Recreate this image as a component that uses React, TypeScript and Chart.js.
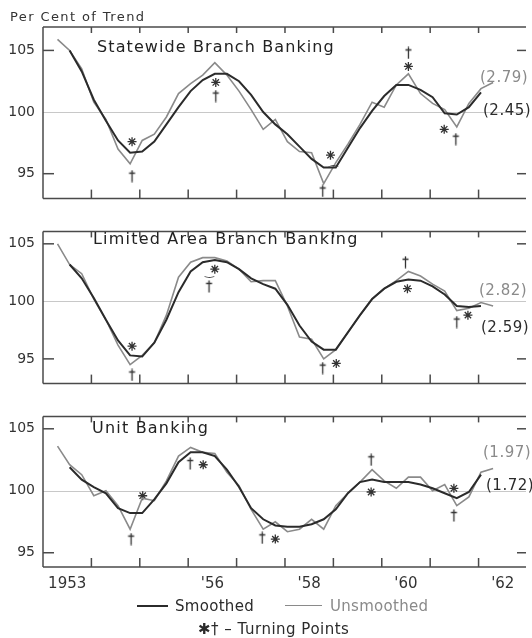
import React, { useEffect, useRef } from "react";
import { Chart, registerables } from "chart.js";

Chart.register(...registerables);

// ---- quarterly observations: first point is 1953 Q2, one value per quarter ----
const FIRST_QUARTER_X = 1953.3;
const QUARTER = 0.25;

const statewideUnsmoothed = [
  105.9, 105.0, 103.5, 100.8, 99.4, 97.0, 95.8, 97.7, 98.2, 99.6, 101.5, 102.3,
  103.0, 104.0, 103.0, 101.7, 100.2, 98.6, 99.4, 97.6, 96.8, 96.7, 94.2, 95.9,
  97.4, 99.0, 100.8, 100.4, 102.2, 103.1, 101.5, 100.7, 100.2, 98.8, 100.7, 101.9,
  102.4,
];
// smoothed series starts one quarter later
const statewideSmoothed = [
  105.0, 103.3, 101.0, 99.3, 97.7, 96.7, 96.8, 97.6, 99.0, 100.4, 101.7, 102.6,
  103.1, 103.1, 102.5, 101.4, 100.0, 99.0, 98.2, 97.2, 96.2, 95.5, 95.5, 97.1,
  98.7, 100.1, 101.3, 102.2, 102.2, 101.8, 101.2, 99.9, 99.8, 100.4, 101.6,
];
const statewideStars = [
  [1954.84, 97.6], [1956.57, 102.4], [1958.94, 96.5], [1960.55, 103.7], [1961.29, 98.6],
];
const statewideDaggers = [
  [1954.84, 94.8], [1956.57, 101.3], [1958.78, 93.6], [1960.55, 104.8], [1961.53, 97.8],
];

const limitedUnsmoothed = [
  105.0, 103.2, 102.4, 100.2, 98.4, 96.2, 94.5, 95.3, 96.4, 98.8, 102.1, 103.4,
  103.8, 103.8, 103.5, 102.8, 101.7, 101.8, 101.8, 99.6, 96.9, 96.7, 95.0, 95.8,
  97.3, 98.8, 100.2, 101.1, 101.8, 102.6, 102.2, 101.5, 100.9, 99.2, 99.4, 99.9,
  99.6,
];
const limitedSmoothed = [
  103.2, 102.0, 100.3, 98.4, 96.6, 95.3, 95.2, 96.4, 98.4, 100.8, 102.6, 103.4,
  103.6, 103.4, 102.8, 102.0, 101.5, 101.1, 99.7, 97.9, 96.5, 95.8, 95.8, 97.3,
  98.8, 100.2, 101.1, 101.7, 101.9, 101.8, 101.3, 100.6, 99.6, 99.5, 99.6,
];
const limitedStars = [
  [1954.84, 96.1], [1956.55, 102.8], [1959.06, 94.6], [1960.53, 101.1], [1961.78, 98.8],
];
const limitedDaggers = [
  [1954.84, 93.6], [1956.43, 101.3], [1958.78, 94.2], [1960.49, 103.4], [1961.55, 98.2],
];

const unitUnsmoothed = [
  103.6, 102.1, 101.3, 99.6, 100.0, 98.8, 96.9, 99.4, 99.2, 100.8, 102.8, 103.5,
  103.1, 103.0, 101.5, 100.4, 98.5, 96.9, 97.5, 96.7, 96.9, 97.7, 96.9, 98.8,
  99.8, 100.7, 101.7, 100.8, 100.2, 101.1, 101.1, 100.0, 100.5, 98.8, 99.5, 101.5,
  101.8,
];
const unitSmoothed = [
  101.9, 100.9, 100.3, 99.8, 98.6, 98.2, 98.2, 99.3, 100.6, 102.3, 103.1, 103.1,
  102.8, 101.7, 100.3, 98.6, 97.7, 97.2, 97.1, 97.1, 97.3, 97.7, 98.5, 99.8,
  100.7, 100.9, 100.7, 100.7, 100.7, 100.5, 100.2, 99.8, 99.4, 99.9, 101.3,
];
const unitStars = [
  [1955.06, 99.6], [1956.31, 102.1], [1957.8, 96.1], [1959.78, 99.9], [1961.49, 100.2],
];
const unitDaggers = [
  [1954.82, 96.1], [1956.04, 102.2], [1957.53, 96.2], [1959.78, 102.5], [1961.49, 98.0],
];

const yTickValues = [95, 100, 105];
const yearBoundaries = [1954, 1955, 1956, 1957, 1958, 1959, 1960, 1961, 1962];
const yearLabelPositions = [1953.5, 1956.5, 1958.5, 1960.5, 1962.5];
const yearLabelTexts = ["1953", "'56", "'58", "'60", "'62"];

const X_MIN = 1953;
const X_MAX = 1962.98;

const DARK = "#2b2b2b";
const GREY = "#8a8a8a";
const FONT = "'DejaVu Sans', sans-serif";

const framePlugin = {
  id: "frame",
  beforeDatasetsDraw(chart: any) {
    const { ctx, chartArea, scales } = chart;
    const { left, right, top, bottom } = chartArea;
    const x = scales.x;
    const y = scales.y;
    const seg = (x1: number, y1: number, x2: number, y2: number) => {
      ctx.beginPath();
      ctx.moveTo(x1, y1);
      ctx.lineTo(x2, y2);
      ctx.stroke();
    };
    ctx.save();
    ctx.strokeStyle = "#c8c8c8";
    ctx.lineWidth = 1;
    const y100 = Math.round(y.getPixelForValue(100)) + 0.5;
    seg(left, y100, right, y100);

    ctx.strokeStyle = "#4a4a4a";
    ctx.lineWidth = 1.5;
    seg(left, top, right, top);
    seg(left, bottom, right, bottom);
    seg(left, top, left, bottom);
    for (const v of [95, 105]) {
      const py = y.getPixelForValue(v);
      seg(left, py, left + 11, py);
      seg(right - 9, py, right, py);
    }
    for (const yr of yearBoundaries) {
      const px = x.getPixelForValue(yr);
      seg(px, bottom, px, bottom - 9);
      seg(px, top, px, top + 6);
    }
    ctx.restore();
  },
};

function makeDagger(): HTMLCanvasElement {
  const c = document.createElement("canvas");
  c.width = 9;
  c.height = 13;
  const g = c.getContext("2d")!;
  g.strokeStyle = "#333";
  g.lineWidth = 1.3;
  g.beginPath();
  g.moveTo(4.5, 0.5);
  g.lineTo(4.5, 12.5);
  g.moveTo(1.5, 3.5);
  g.lineTo(7.5, 3.5);
  g.stroke();
  return c;
}

type PanelProps = {
  unsmoothed: number[];
  smoothed: number[];
  stars: number[][];
  daggers: number[][];
  yMin: number;
  yMax: number;
  top: number;
  height: number;
  padTop: number;
  padBottom: number;
  showX: boolean;
};

function Panel(p: PanelProps) {
  const ref = useRef<HTMLCanvasElement>(null);
  useEffect(() => {
    const canvas = ref.current!;
    const dagger = makeDagger();
    const toPts = (vals: number[], offset: number) =>
      vals.map((v, i) => ({ x: FIRST_QUARTER_X + (i + offset) * QUARTER, y: v }));
    const chart = new Chart(canvas, {
      type: "line",
      data: {
        datasets: [
          {
            label: "Smoothed",
            data: toPts(p.smoothed, 1),
            borderColor: DARK,
            borderWidth: 2,
            pointRadius: 0,
            tension: 0,
            fill: false,
          },
          {
            label: "Unsmoothed",
            data: toPts(p.unsmoothed, 0),
            borderColor: GREY,
            borderWidth: 1.6,
            pointRadius: 0,
            tension: 0,
            fill: false,
          },
          {
            type: "scatter",
            label: "Turning point *",
            data: p.stars.map(([x, y]) => ({ x, y })),
            pointStyle: "star",
            pointRadius: 4.5,
            borderColor: "#333",
            backgroundColor: "#333",
            borderWidth: 1.3,
            showLine: false,
          },
          {
            type: "scatter",
            label: "Turning point †",
            data: p.daggers.map(([x, y]) => ({ x, y })),
            pointStyle: dagger,
            pointRadius: 5,
            showLine: false,
          },
        ] as any,
      },
      options: {
        responsive: false,
        animation: false,
        devicePixelRatio: 1,
        layout: { padding: { top: p.padTop, bottom: p.padBottom, left: 0, right: 0 } },
        plugins: { legend: { display: false }, tooltip: { enabled: false } },
        scales: {
          x: {
            type: "linear",
            min: X_MIN,
            max: X_MAX,
            display: p.showX,
            grid: { display: false, drawTicks: false },
            border: { display: false },
            afterBuildTicks: (s: any) => {
              s.ticks = yearLabelPositions.map((v) => ({ value: v }));
            },
            afterFit: (s: any) => {
              s.height = p.showX ? 38 : 0;
            },
            ticks: {
              autoSkip: false,
              maxRotation: 0,
              padding: 8,
              color: "#333",
              font: { family: FONT, size: 15 },
              callback: (_v: any, i: number) => yearLabelTexts[i],
            },
          },
          y: {
            type: "linear",
            min: p.yMin,
            max: p.yMax,
            grid: { display: false, drawTicks: false },
            border: { display: false },
            afterBuildTicks: (s: any) => {
              s.ticks = yTickValues.map((v) => ({ value: v }));
            },
            afterFit: (s: any) => {
              s.width = 43;
            },
            ticks: {
              padding: 8,
              color: "#333",
              font: { family: FONT, size: 14 },
              callback: (v: any) => String(v),
            },
          },
        },
      } as any,
      plugins: [framePlugin],
    });
    return () => chart.destroy();
  }, []);
  return (
    <canvas
      ref={ref}
      width={532}
      height={p.height}
      style={{ position: "absolute", left: 0, top: p.top, width: 532, height: p.height }}
    />
  );
}

const txt = (
  s: string,
  left: number,
  top: number,
  size: number,
  color: string,
  spacing = 0
) => (
  <div
    style={{
      position: "absolute",
      left,
      top,
      fontSize: size,
      lineHeight: 1,
      color,
      letterSpacing: spacing,
      whiteSpace: "nowrap",
      fontFamily: FONT,
    }}
  >
    {s}
  </div>
);

export default function App() {
  return (
    <div
      style={{
        position: "absolute",
        left: 0,
        top: 0,
        width: 532,
        height: 638,
        background: "#fff",
        overflow: "hidden",
        fontFamily: FONT,
      }}
    >
      <Panel
        unsmoothed={statewideUnsmoothed}
        smoothed={statewideSmoothed}
        stars={statewideStars}
        daggers={statewideDaggers}
        yMin={92.98}
        yMax={106.9}
        top={0}
        height={215}
        padTop={27}
        padBottom={5}
        showX={false}
      />
      <Panel
        unsmoothed={limitedUnsmoothed}
        smoothed={limitedSmoothed}
        stars={limitedStars}
        daggers={limitedDaggers}
        yMin={92.85}
        yMax={106.08}
        top={215}
        height={185}
        padTop={8}
        padBottom={5}
        showX={false}
      />
      <Panel
        unsmoothed={unitUnsmoothed}
        smoothed={unitSmoothed}
        stars={unitStars}
        daggers={unitDaggers}
        yMin={93.85}
        yMax={106.0}
        top={400}
        height={205}
        padTop={9}
        padBottom={0}
        showX={true}
      />
      {txt("Per Cent of Trend", 10, 10, 13, "#333", 1.4)}
      {txt("Statewide Branch Banking", 97, 39, 16, "#222", 1.1)}
      {txt("Limited Area Branch Banking", 93, 231, 16, "#222", 1.2)}
      {txt("Unit Banking", 92, 420, 16, "#222", 1.2)}
      {txt("⁀", 329, 166, 11, "#444")}
      {txt("‿", 205, 266, 11, "#444")}
      {txt("(2.79)", 480, 70, 15, GREY, 0.5)}
      {txt("(2.45)", 483, 103, 15, DARK, 0.5)}
      {txt("(2.82)", 479, 283, 15, GREY, 0.5)}
      {txt("(2.59)", 481, 320, 15, DARK, 0.5)}
      {txt("(1.97)", 483, 445, 15, GREY, 0.5)}
      {txt("(1.72)", 486, 478, 15, DARK, 0.5)}
      <div style={{ position: "absolute", left: 137, top: 605, width: 31, borderTop: `2px solid ${DARK}` }} />
      {txt("Smoothed", 175, 599, 15, DARK, 0.3)}
      <div style={{ position: "absolute", left: 285, top: 605, width: 37, borderTop: `1.6px solid ${GREY}` }} />
      {txt("Unsmoothed", 330, 599, 15, GREY, 0.3)}
      {txt("✱† – Turning Points", 198, 622, 15, DARK, 0.5)}
    </div>
  );
}
